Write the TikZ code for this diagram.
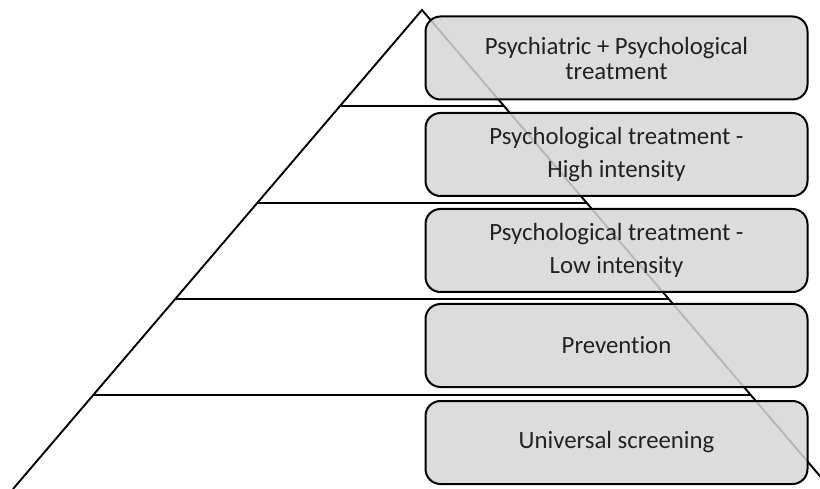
\documentclass[tikz,border=0pt]{standalone}
\usepackage{fontspec}
\setmainfont{Carlito}[Ligatures={NoCommon}]
\usetikzlibrary{calc}
\definecolor{boxgray}{HTML}{D6D6D6}
\definecolor{txtgray}{HTML}{222222}
\begin{document}
\begin{tikzpicture}[x=1pt,y=-1pt,
  tier/.style={draw=black, line width=2pt, rounded corners=15pt, fill=boxgray,
    fill opacity=0.85, text opacity=1, minimum width=382pt, minimum height=83pt,
    inner sep=0pt, align=center, text=txtgray},
  tight/.style={font=\fontsize{24.8}{25}\selectfont},
  loose/.style={font=\fontsize{24.8}{33.5}\selectfont},
  edge/.style={line width=1.9pt, line join=miter}]
\useasboundingbox (0,0) rectangle (820,489);
\clip (0,0) rectangle (820,489);
% pyramid
\coordinate (apex) at (422,10);
\coordinate (bl) at (13,489);
\coordinate (br) at (831,489);
\draw[edge] (bl) -- (apex) -- (br);
\draw[line width=1pt, black!35] (bl) -- (br);
\foreach \y in {106,203,299,395}{
  \draw[line width=1.8pt] ($(apex)!{(\y-10)/479}!(bl)$) -- ($(apex)!{(\y-10)/479}!(br)$);
}
% tiers
\node[tier, tight] (b1) at (616.5,58) {Psychiatric + Psychological\\treatment};
\node[tier, loose] (b2) at (616.5,154.5) {Psychological treatment -\\High intensity};
\node[tier, loose] (b3) at (616.5,250.5) {Psychological treatment -\\Low intensity};
\node[tier, tight] (b4) at (616.5,345.5) {Prevention};
\node[tier, tight] (b5) at (616.5,442.5) {Universal screening};
\end{tikzpicture}
\end{document}
